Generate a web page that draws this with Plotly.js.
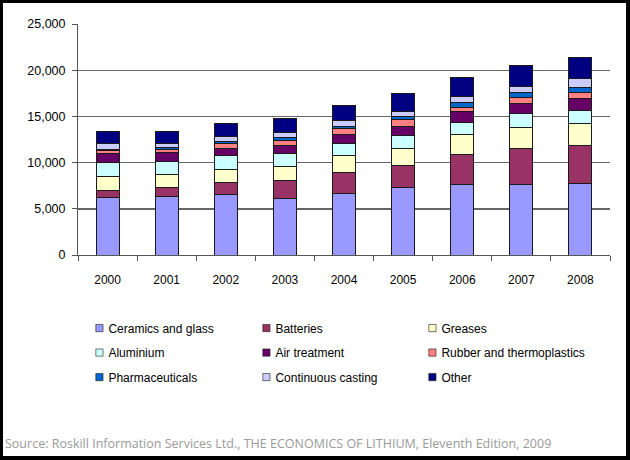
<!DOCTYPE html>
<html>
<head>
<meta charset="utf-8">
<script src="https://cdn.plot.ly/plotly-3.0.1.min.js"></script>
<style>
  html, body { margin: 0; padding: 0; background: #000; width: 630px; height: 460px; overflow: hidden; }
  #chart { position: absolute; left: 3px; top: 3px; width: 623px; height: 453px; background: #fff; }
</style>
</head>
<body>
<div id="chart"></div>
<script>
const years = ['2000', '2001', '2002', '2003', '2004', '2005', '2006', '2007', '2008'];
const ceramics   = [6200, 6300, 6550, 6150, 6680, 7280, 7650, 7650, 7760];
const batteries  = [830, 970, 1250, 1950, 2230, 2380, 3250, 3930, 4070];
const greases    = [1440, 1450, 1480, 1440, 1810, 1840, 2130, 2270, 2420];
const aluminium  = [1510, 1360, 1440, 1450, 1370, 1460, 1300, 1430, 1440];
const airTreat   = [1020, 1020, 830, 820, 970, 1000, 1150, 1160, 1270];
const rubber     = [280, 320, 510, 620, 650, 680, 490, 610, 650];
const pharma     = [150, 220, 170, 250, 250, 320, 520, 540, 540];
const casting    = [650, 430, 620, 540, 570, 540, 630, 650, 910];
const other      = [1260, 1260, 1370, 1560, 1700, 1950, 2100, 2240, 2270];
const seriesNames = ['Ceramics and glass', 'Batteries', 'Greases', 'Aluminium', 'Air treatment',
                     'Rubber and thermoplastics', 'Pharmaceuticals', 'Continuous casting', 'Other'];
const sourceText = 'Source: Roskill Information Services Ltd., THE ECONOMICS OF LITHIUM, Eleventh Edition, 2009';

const seriesValues = [ceramics, batteries, greases, aluminium, airTreat, rubber, pharma, casting, other];
const colors = ['#9999FF', '#993366', '#FFFFCC', '#CCFFFF', '#660066', '#FF8080', '#0066CC', '#CCCCFF', '#000080'];
// legend columns: column 1, 2, 3 (items fill rows left to right)
const legendIds = ['legend', 'legend2', 'legend3', 'legend', 'legend2', 'legend3', 'legend', 'legend2', 'legend3'];

const traces = seriesValues.map((vals, i) => ({
  type: 'bar',
  name: seriesNames[i],
  x: years,
  y: vals,
  legend: legendIds[i],
  legendgroup: 'g' + i,
  marker: { color: colors[i], line: { color: '#1a1a1a', width: 1 } }
}));

const legendBase = {
  orientation: 'v',
  yanchor: 'top',
  xanchor: 'left',
  y: -0.2535,
  traceorder: 'grouped',
  tracegroupgap: 5.5,
  font: { family: 'Liberation Sans, Arial, sans-serif', size: 12, color: '#000' },
  bgcolor: 'rgba(0,0,0,0)'
};

const layout = {
  width: 623,
  height: 453,
  margin: { l: 75, r: 16, t: 21, b: 201 },
  paper_bgcolor: '#fff',
  plot_bgcolor: '#fff',
  barmode: 'stack',
  bargap: 0.61,
  showlegend: true,
  font: { family: 'Liberation Sans, Arial, sans-serif', size: 12, color: '#000' },
  xaxis: {
    type: 'category',
    showline: true,
    linecolor: '#555',
    linewidth: 1,
    ticks: 'outside',
    tickson: 'boundaries',
    ticklen: 5,
    tickcolor: '#555',
    ticklabelstandoff: 14,
    showgrid: false,
    tickfont: { family: 'Liberation Sans, Arial, sans-serif', size: 12, color: '#000' }
  },
  yaxis: {
    range: [0, 25000],
    dtick: 5000,
    tickformat: ',d',
    showline: true,
    linecolor: '#555',
    linewidth: 1,
    ticks: 'outside',
    ticklen: 5,
    tickcolor: '#555',
    showgrid: true,
    gridcolor: '#666',
    gridwidth: 1.4,
    zeroline: false,
    ticklabelstandoff: 4,
    tickfont: { family: 'Liberation Sans, Arial, sans-serif', size: 12.5, color: '#000' }
  },
  legend: Object.assign({}, legendBase, { x: -0.018 }),
  legend2: Object.assign({}, legendBase, { x: 0.2959 }),
  legend3: Object.assign({}, legendBase, { x: 0.6079 }),
  annotations: [{
    xref: 'paper', yref: 'paper',
    x: -0.1405, y: -0.815,
    xanchor: 'left', yanchor: 'middle',
    showarrow: false,
    text: sourceText,
    font: { family: 'Open Sans, DejaVu Sans, sans-serif', size: 12.5, color: '#9a9a9a' }
  }]
};

function shrinkLegendSymbols() {
  document.querySelectorAll('#chart g.legendpoints').forEach(g => {
    g.setAttribute('transform', 'translate(19,0) scale(0.6)');
  });
}

const gd = document.getElementById('chart');
Plotly.newPlot(gd, traces, layout, { displayModeBar: false, staticPlot: true }).then(() => {
  shrinkLegendSymbols();
  gd.on('plotly_afterplot', shrinkLegendSymbols);
});
</script>
</body>
</html>
